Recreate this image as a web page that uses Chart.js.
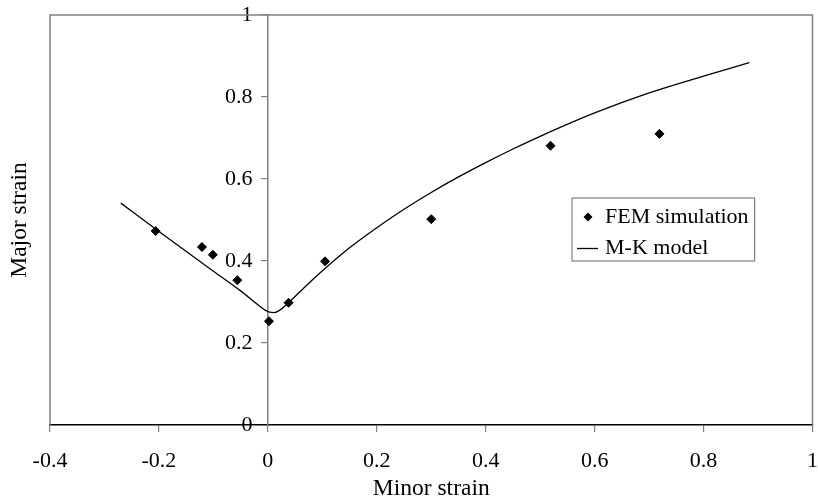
<!DOCTYPE html>
<html>
<head>
<meta charset="utf-8">
<script src="https://cdn.jsdelivr.net/npm/chart.js@4.4.1/dist/chart.umd.min.js"></script>
<style>
  body { margin: 0; background: #fff; }
  #wrap { width: 818px; height: 503px; }
</style>
</head>
<body>
<div id="wrap"><canvas id="grafico" width="818" height="503"></canvas></div>
<script>
// FEM simulation points
const femX = [-0.206, -0.121, -0.101, -0.056, 0.002, 0.038, 0.105, 0.300, 0.519, 0.719];
const femY = [0.473, 0.434, 0.415, 0.353, 0.253, 0.298, 0.399, 0.502, 0.681, 0.710];

// M-K model curve
const mkX = [-0.27, -0.2, -0.1, -0.05, -0.02, -0.005, 0.003, 0.012, 0.022, 0.038, 0.07, 0.108, 0.15, 0.2, 0.25, 0.3, 0.35, 0.4, 0.45, 0.5, 0.6, 0.7, 0.8, 0.884];
const mkY = [0.541, 0.472, 0.375, 0.327, 0.295, 0.280, 0.275, 0.274, 0.280, 0.298, 0.339, 0.385, 0.432, 0.481, 0.526, 0.567, 0.605, 0.640, 0.673, 0.704, 0.761, 0.810, 0.851, 0.884];

const xTicks = [-0.4, -0.2, 0, 0.2, 0.4, 0.6, 0.8, 1];
const yTicks = [0, 0.2, 0.4, 0.6, 0.8, 1];

const serif = 'Liberation Serif, Times New Roman, serif';
const cinza = '#808080';

const toPts = (xs, ys) => xs.map((x, i) => ({ x: x, y: ys[i] }));
const fmt = v => String(Math.round(v * 10) / 10);

// moldura, título do eixo y e legenda desenhados à mão
const extras = {
    id: 'extras',
    beforeDatasetsDraw(chart) {
        const { ctx, chartArea: a } = chart;
        ctx.save();
        ctx.strokeStyle = cinza;
        ctx.lineWidth = 1.5;
        ctx.beginPath();
        ctx.moveTo(a.left, a.bottom);
        ctx.lineTo(a.left, a.top);
        ctx.lineTo(a.right, a.top);
        ctx.lineTo(a.right, a.bottom);
        ctx.stroke();
        ctx.restore();
    },
    afterDraw(chart) {
        const ctx = chart.ctx;
        const a = chart.chartArea;
        ctx.save();
        ctx.fillStyle = '#000';
        ctx.font = '23.5px ' + serif;
        ctx.textAlign = 'center';
        ctx.textBaseline = 'middle';
        ctx.translate(20, (a.top + a.bottom) / 2);
        ctx.rotate(-Math.PI / 2);
        ctx.fillText('Major strain', 0, 0);
        ctx.restore();

        // legenda
        ctx.save();
        ctx.font = '22px ' + serif;
        const w = ctx.measureText(chart.data.datasets[0].label).width;
        const bx = 572, by = 198, bh = 63, bw = 605 - bx + w + 6;
        ctx.fillStyle = '#fff';
        ctx.fillRect(bx, by, bw, bh);
        ctx.strokeStyle = cinza;
        ctx.lineWidth = 1.2;
        ctx.strokeRect(bx, by, bw, bh);
        ctx.fillStyle = '#000';
        ctx.beginPath();
        ctx.moveTo(583.5, 217); ctx.lineTo(588, 212.5); ctx.lineTo(592.5, 217); ctx.lineTo(588, 221.5);
        ctx.closePath();
        ctx.fill();
        ctx.strokeStyle = '#000';
        ctx.lineWidth = 1.3;
        ctx.beginPath();
        ctx.moveTo(577, 248.5); ctx.lineTo(598, 248.5);
        ctx.stroke();
        ctx.textAlign = 'left';
        ctx.textBaseline = 'middle';
        ctx.fillText(chart.data.datasets[0].label, 605, 217);
        ctx.fillText(chart.data.datasets[1].label, 605, 248);
        ctx.restore();
    }
};

const ctx = document.getElementById('grafico').getContext('2d');

new Chart(ctx, {
    type: 'scatter',
    data: {
        datasets: [{
            label: 'FEM simulation',
            data: toPts(femX, femY),
            pointStyle: 'rectRot',
            pointRadius: 4.5,
            backgroundColor: '#000',
            borderColor: '#000',
            borderWidth: 1,
            showLine: false
        }, {
            label: 'M-K model',
            data: toPts(mkX, mkY),
            showLine: true,
            pointRadius: 0,
            borderColor: '#000',
            borderWidth: 1.3,
            cubicInterpolationMode: 'monotone'
        }]
    },
    options: {
        responsive: false,
        animation: false,
        layout: { padding: { left: 50, right: 5, top: 15, bottom: 0 } },
        plugins: {
            legend: { display: false },
            tooltip: { enabled: false }
        },
        scales: {
            x: {
                type: 'linear',
                min: -0.4,
                max: 1,
                afterBuildTicks: s => { s.ticks = xTicks.map(v => ({ value: v })); },
                afterFit: s => { s.paddingLeft = 0; s.paddingRight = 0; },
                ticks: {
                    color: '#000',
                    font: { family: serif, size: 22 },
                    padding: 16,
                    maxRotation: 0,
                    callback: fmt
                },
                grid: { drawOnChartArea: false, tickLength: 7, color: cinza, lineWidth: 1.2 },
                border: { color: '#000', width: 1.5 },
                title: {
                    display: true,
                    text: 'Minor strain',
                    color: '#000',
                    font: { family: serif, size: 23.5 },
                    padding: { top: -15.5, bottom: 0 }
                }
            },
            y: {
                type: 'linear',
                position: { x: 0 },
                min: 0,
                max: 1,
                afterBuildTicks: s => { s.ticks = yTicks.map(v => ({ value: v })); },
                afterFit: s => { s.paddingTop = 0; s.paddingBottom = 0; },
                ticks: {
                    color: '#000',
                    font: { family: serif, size: 22 },
                    // rótulos afastados do eixo com espaços (padding não vale aqui)
                    callback: v => fmt(v) + '  \u2009'
                },
                grid: { drawOnChartArea: false, tickLength: 6, color: cinza, lineWidth: 1.2 },
                border: { color: cinza, width: 1.5 }
            }
        }
    },
    plugins: [extras]
});
</script>
</body>
</html>
